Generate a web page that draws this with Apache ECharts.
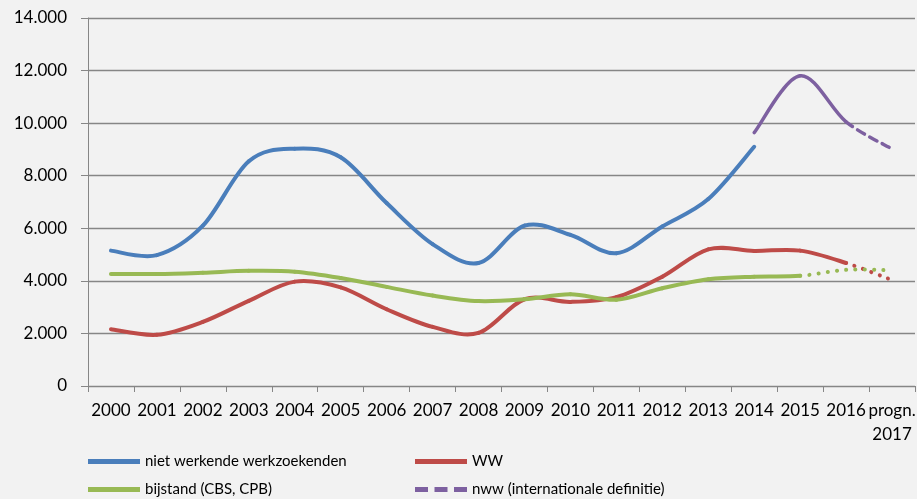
<!DOCTYPE html>
<html>
<head>
<meta charset="utf-8">
<script src="https://cdn.jsdelivr.net/npm/echarts@6/dist/echarts.min.js"></script>
<style>
html,body{margin:0;padding:0;background:#F2F2F2;}
#chart{width:917px;height:499px;}
</style>
</head>
<body>
<div id="chart"></div>
<script>
// ---- data ----
const categories = ['2000','2001','2002','2003','2004','2005','2006','2007','2008','2009','2010','2011','2012','2013','2014','2015','2016','progn.\n2017'];
const nwwTotaal = [5150, 4980, 6100, 8550, 9030, 8700, 6960, 5400, 4680, 6100, 5750, 5050, 6070, 7110, 9100, null, null, null];
const wwValues  = [2160, 1950, 2440, 3240, 3970, 3750, 2920, 2250, 2020, 3300, 3200, 3380, 4160, 5200, 5140, 5150, 4680, 4030];
const bijstand  = [4260, 4260, 4310, 4380, 4350, 4110, 3770, 3440, 3230, 3300, 3490, 3280, 3720, 4060, 4160, 4190, 4420, 4400];
const nwwIntern = [null, null, null, null, null, null, null, null, null, null, null, null, null, null, 9640, 11800, 10050, 9020];
// index of the first category from which each series is drawn as a prognosis (dotted / dashed)
const wwPrognFrom = 16, bijstandPrognFrom = 15, nwwInternPrognFrom = 16;
const yMin = 0, yMax = 14000, yStep = 2000;
const names = ['niet werkende werkzoekenden', 'WW', 'bijstand (CBS, CPB)', 'nww (internationale definitie)'];

const C_BLUE = '#4A7EBB', C_RED = '#BE4B48', C_GREEN = '#98B954', C_PURPLE = '#7D60A0';
const FONT = 'Lato, "Liberation Sans", sans-serif';
const AXIS = '#868686';
const TENSION = 1 / 6;

function fmt(v){ return String(v).replace(/\B(?=(\d{3})+(?!\d))/g, '.'); }

const chart = echarts.init(document.getElementById('chart'), null, {renderer:'canvas'});

// Excel-like smoothed line (Catmull-Rom bezier), drawn segment by segment through the axes' scales
function smoothSeries(name, arr, color, width, prognFrom, prognDash){
  return {
    name: name, type: 'custom', coordinateSystem: 'cartesian2d', animation: false,
    encode: {x: 0, y: 1},
    itemStyle: {color: color},
    data: arr.map((v, i) => [i, v == null ? '-' : v]),
    renderItem: function(params, api){
      const i = params.dataIndex;
      if (arr[i] == null || i + 1 >= arr.length || arr[i + 1] == null) return null;
      const pt = k => api.coord([k, arr[k]]);
      const p1 = pt(i), p2 = pt(i + 1);
      const p0 = (i - 1 >= 0 && arr[i - 1] != null) ? pt(i - 1) : p1;
      const p3 = (i + 2 < arr.length && arr[i + 2] != null) ? pt(i + 2) : p2;
      const progn = prognFrom != null && i >= prognFrom;
      return {
        type: 'bezierCurve',
        shape: {
          x1: p1[0], y1: p1[1], x2: p2[0], y2: p2[1],
          cpx1: p1[0] + (p2[0] - p0[0]) * TENSION, cpy1: p1[1] + (p2[1] - p0[1]) * TENSION,
          cpx2: p2[0] - (p3[0] - p1[0]) * TENSION, cpy2: p2[1] - (p3[1] - p1[1]) * TENSION
        },
        style: {stroke: color, fill: null, lineWidth: width, lineCap: 'round', lineJoin: 'round',
                lineDash: progn ? prognDash : null}
      };
    }
  };
}

const ICON_SOLID = 'path://M0,0H52V5H0Z';
const ICON_DASH = 'path://M0,0H13V5H0Z M19.5,0H32.5V5H19.5Z M39,0H52V5H39Z';
function legendItem(name, color, icon){
  return {name: name, icon: icon, itemStyle: {color: color, borderWidth: 0}};
}
const legendBase = {orient: 'vertical', top: 454, padding: 0, itemWidth: 52, itemHeight: 5, itemGap: 13,
  textStyle: {color: '#000', fontFamily: FONT, fontSize: 15, lineHeight: 15}, selectedMode: false};

chart.setOption({
  backgroundColor: '#F2F2F2',
  animation: false,
  grid: {left: 88, right: 2, top: 18, height: 368, containLabel: false, outerBoundsMode: 'none'},
  xAxis: {
    type: 'category', data: categories, boundaryGap: true,
    axisLine: {show: true, lineStyle: {color: AXIS, width: 1}},
    axisTick: {show: true, length: 6, alignWithLabel: false, interval: 0, lineStyle: {color: AXIS}},
    axisLabel: {interval: 0, margin: 13, color: '#000', fontFamily: FONT, fontSize: 17, lineHeight: 24, align: 'center'},
    splitLine: {show: false}
  },
  yAxis: {
    type: 'value', min: yMin, max: yMax, interval: yStep,
    axisLine: {show: true, lineStyle: {color: AXIS, width: 1}},
    axisTick: {show: true, length: 7, lineStyle: {color: AXIS}},
    axisLabel: {margin: 21, color: '#000', fontFamily: FONT, fontSize: 17, formatter: fmt},
    splitLine: {show: true, lineStyle: {color: AXIS, width: 1.3}}
  },
  legend: [
    Object.assign({}, legendBase, {left: 88, data: [legendItem(names[0], C_BLUE, ICON_SOLID), legendItem(names[2], C_GREEN, ICON_SOLID)]}),
    Object.assign({}, legendBase, {left: 415, data: [legendItem(names[1], C_RED, ICON_SOLID), legendItem(names[3], C_PURPLE, ICON_DASH)]})
  ],
  series: [
    smoothSeries(names[0], nwwTotaal, C_BLUE, 4, null, null),
    smoothSeries(names[1], wwValues, C_RED, 4, wwPrognFrom, [0.1, 8.8]),
    smoothSeries(names[2], bijstand, C_GREEN, 4, bijstandPrognFrom, [0.1, 9.2]),
    smoothSeries(names[3], nwwIntern, C_PURPLE, 3.5, nwwInternPrognFrom, [8, 6])
  ]
});
</script>
</body>
</html>
